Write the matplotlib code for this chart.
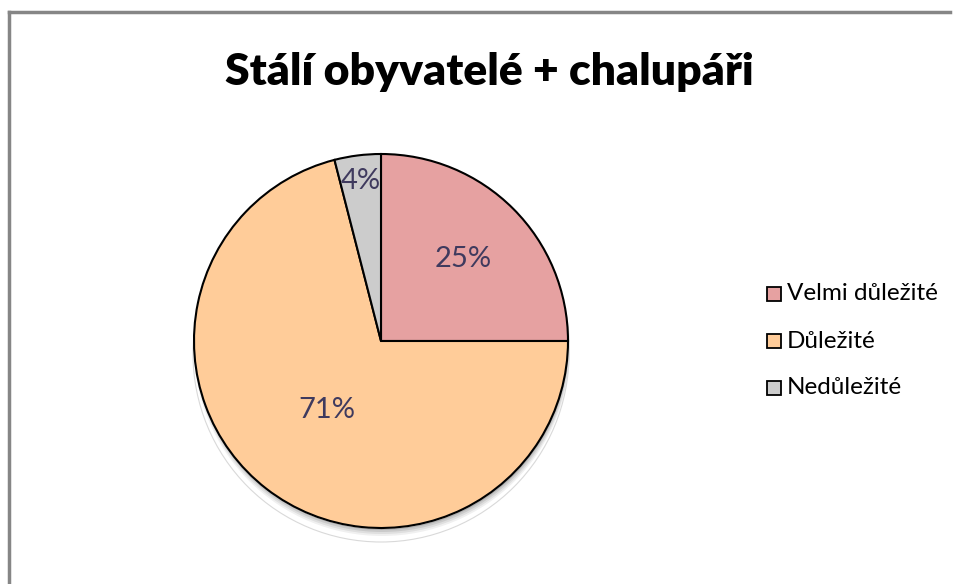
import matplotlib
matplotlib.use("Agg")
import matplotlib.pyplot as plt
from matplotlib.patches import Circle, Rectangle
from matplotlib.lines import Line2D
import numpy as np

title = "Stálí obyvatelé + chalupáři"
categories = ["Velmi důležité", "Důležité", "Nedůležité"]
values = [25, 71, 4]
colors = ["#E6A1A1", "#FFCC99", "#CCCCCC"]
label_dist = [0.62, 0.47, 0.86]

W, H = 955, 584
fig = plt.figure(figsize=(W / 100, H / 100), dpi=100)
ax = fig.add_axes([0, 0, 1, 1])
ax.set_xlim(0, W)
ax.set_ylim(0, H)
ax.axis("off")

font = "Lato"

# border (top and left visible)
ax.add_line(Line2D([9, 950], [H - 12, H - 12], color="#868686", lw=2.5))
ax.add_line(Line2D([9, 9], [H - 12, 0], color="#868686", lw=2.5))

cx, cy, r = 381, H - 341, 187

# soft shadow
for i, a in enumerate([0.06, 0.07, 0.09, 0.12]):
    ax.add_patch(Circle((cx + 1, cy - 7 + i * 1.5), r + 1 - i * 0.5, color="black", alpha=a, lw=0, zorder=0))
ax.add_patch(Circle((cx, cy - 13), r + 1, fill=False, ec="#d9d9d9", lw=0.8, zorder=0))
ax.add_patch(Circle((cx, cy - 1), r, color="white", lw=0, zorder=0.5))

wedges, _ = ax.pie(values, colors=colors, startangle=90, counterclock=False,
                   center=(cx, cy), radius=r, frame=True,
                   wedgeprops=dict(edgecolor="black", linewidth=1.5))
ax.set_xlim(0, W)
ax.set_ylim(0, H)
ax.set_aspect("equal")
ax.axis("off")

total = sum(values)
start = 90.0
for v, d in zip(values, label_dist):
    span = 360.0 * v / total
    mid = np.deg2rad(start - span / 2)
    start -= span
    ax.text(cx + d * r * np.cos(mid), cy + d * r * np.sin(mid), f"{round(100 * v / total)}%",
            ha="center", va="center", fontsize=21, color="#3F3A5E", family=font)

ax.text(489, H - 72, title, ha="center", va="center", fontsize=32, fontweight="heavy",
        family=font, color="black")

# legend
ys = [294, 341, 388]
for cat, col, y in zip(categories, colors, ys):
    ax.add_patch(Rectangle((767, H - y - 7), 14, 14, facecolor=col, edgecolor="black", lw=1.3))
    ax.text(787, H - y, cat, ha="left", va="center", fontsize=17.5, family=font, color="black")

fig.savefig("out.png", dpi=100)
